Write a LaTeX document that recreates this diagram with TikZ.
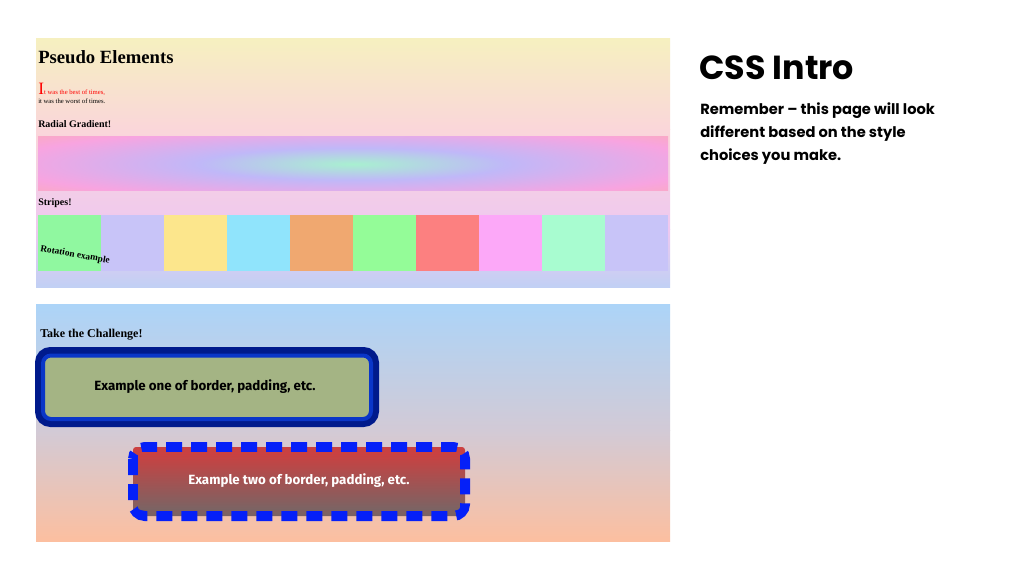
\documentclass[tikz,border=0pt]{standalone}
\usepackage{fontspec}
\setmainfont{Liberation Serif}
\newfontfamily\poppins{Poppins}
\newfontfamily\fira{Fira Sans}
\usetikzlibrary{shadings}
\definecolor{pyel}{HTML}{F6F0C0}
\definecolor{ppink}{HTML}{FAD6DA}
\definecolor{plav}{HTML}{EEC8F0}
\definecolor{pblue}{HTML}{C0D0F4}
\definecolor{qtop}{HTML}{ACD4F8}
\definecolor{qmid}{HTML}{D2CAD6}
\definecolor{qbot}{HTML}{FCBFA0}
\definecolor{rmint}{HTML}{A8F0D0}
\definecolor{rlav}{HTML}{C0B8F8}
\definecolor{rpink}{HTML}{F8A4E0}
\definecolor{rpeach}{HTML}{FCB0A0}
\definecolor{ryel}{HTML}{FCE080}
\definecolor{s1}{HTML}{90F8A0}
\definecolor{s2}{HTML}{C8C4F8}
\definecolor{s3}{HTML}{FCE68C}
\definecolor{s4}{HTML}{90E4FC}
\definecolor{s5}{HTML}{F0A870}
\definecolor{s6}{HTML}{94FC98}
\definecolor{s7}{HTML}{FC8080}
\definecolor{s8}{HTML}{FCA8F8}
\definecolor{s9}{HTML}{A8FCD0}
\definecolor{olive}{HTML}{A4B484}
\definecolor{navy}{HTML}{001A8C}
\definecolor{bblue}{HTML}{0A36C8}
\definecolor{dblue}{HTML}{0520F8}
\definecolor{rtop}{HTML}{CC4040}
\definecolor{rbot}{HTML}{7A6464}
\pgfdeclareradialshading{rg}{\pgfpoint{0bp}{0bp}}{color(0bp)=(rmint); color(8bp)=(rlav); color(18bp)=(rpink); color(27bp)=(rpeach); color(33bp)=(ryel); color(50bp)=(ryel)}
\tikzset{heading/.style={anchor=west,font=\bfseries},
  stripe/.style={minimum width=63\px,minimum height=56\px,inner sep=0,anchor=north west}}
\newlength\px \setlength\px{0.75pt}
\begin{document}
\begin{tikzpicture}[x=0.75pt,y=-0.75pt]
\useasboundingbox[fill=white] (0,0) rectangle (1024,577);
% panel 1
\shade[top color=pyel,bottom color=ppink] (36,39) rectangle (670,130);
\shade[top color=ppink,bottom color=plav] (36,130) rectangle (670,230);
\shade[top color=plav,bottom color=pblue] (36,230) rectangle (670,288);
\node[heading,inner sep=0,font=\bfseries\fontsize{14}{14}\selectfont] (t1) at (38,57) {Pseudo Elements};
\node[anchor=base west,inner sep=0,text=red,font=\fontsize{5}{5}\selectfont] (l1) at (38,95) {{\fontsize{13}{13}\selectfont I}t was the best of times,};
\node[anchor=base west,inner sep=0,font=\fontsize{5}{5}\selectfont] (l2) at (38,104) {it was the worst of times.};
\node[heading,inner sep=0,font=\bfseries\fontsize{7.5}{7.5}\selectfont] (rgt) at (38,124) {Radial Gradient!};
\begin{scope}
\clip (38,137) rectangle (668,191);
\fill[ryel] (38,137) rectangle (668,191);
\shade[shading=rg] (353,164) ellipse (480 and 50);
\end{scope}
\node[heading,inner sep=0,font=\bfseries\fontsize{7.5}{7.5}\selectfont] (st) at (38,203) {Stripes!};
\foreach \c [count=\i from 0] in {s1,s2,s3,s4,s5,s6,s7,s8,s9,s2}
  \node[stripe,fill=\c] (sp\i) at (38+63*\i,215) {};
\node[rotate=-10,font=\bfseries\fontsize{7}{7}\selectfont] (rot) at (75,255) {Rotation example};
% panel 2
\shade[top color=qtop,bottom color=qmid] (36,304) rectangle (670,430);
\shade[top color=qmid,bottom color=qbot] (36,430) rectangle (670,541);
\node[heading,inner sep=0,font=\bfseries\fontsize{9}{9}\selectfont] (tc) at (40,335) {Take the Challenge!};
\draw[navy,line width=7\px,rounded corners=12\px] (38.5,350.5) rectangle (375.5,423.5);
\draw[bblue,line width=4\px,rounded corners=8\px,fill=olive] (43,355.5) rectangle (371,419);
\node[font=\fira\bfseries\fontsize{10}{10}\selectfont] (b1) at (205,387) {Example one of border, padding, etc.};
\shade[top color=rtop,bottom color=rbot,rounded corners=3\px] (133,447) rectangle (465,516);
\draw[dblue,line width=10\px,rounded corners=12\px,dash pattern=on 16\px off 9\px] (133,447) rectangle (465,516);
\shade[top color=rtop,bottom color=rbot,rounded corners=3\px] (138,452) rectangle (460,510);
\node[text=white,font=\fira\bfseries\fontsize{10}{10}\selectfont] (b2) at (299,481) {Example two of border, padding, etc.};
% right text
\node[anchor=west,inner sep=0,font=\poppins\fontsize{25}{25}\selectfont\bfseries] (ti) at (699,68) {CSS Intro};
\node[anchor=north west,inner sep=0,align=left,font=\poppins\fontsize{11}{17.5}\selectfont\bfseries] (bd) at (700,102) {Remember – this page will look\\different based on the style\\choices you make.};
\end{tikzpicture}
\end{document}
